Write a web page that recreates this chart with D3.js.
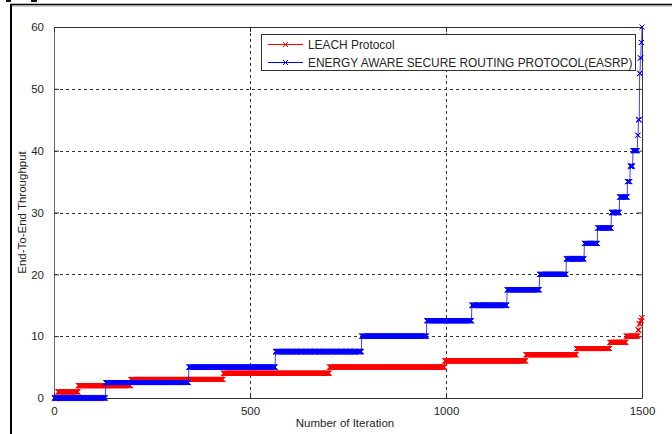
<!DOCTYPE html>
<html>
<head>
<meta charset="utf-8">
<script src="https://cdn.jsdelivr.net/npm/d3@7"></script>
<style>
  html, body { margin: 0; padding: 0; background: #ffffff; }
  svg { display: block; }
  text { font-family: "Liberation Sans", Arial, sans-serif; }
</style>
</head>
<body>
<svg id="chart" width="672" height="434"></svg>
<script>
// Step runs: first iteration of each run and the throughput held during it
const leachStart = [1, 10, 62, 196, 432, 703, 997, 1204, 1333, 1418, 1460, 1490, 1493, 1496, 1499];
const leachLevel = [0, 1, 2, 3, 4, 5, 6, 7, 8, 9, 10, 11, 12, 12.5, 13];

const easrpStart = [1, 132, 344, 565, 785, 951, 1066, 1156, 1239, 1307, 1353, 1387, 1422, 1443, 1463, 1470, 1477, 1489, 1491, 1494, 1496, 1498, 1500];
const easrpLevel = [0, 2.5, 5, 7.5, 10, 12.5, 15, 17.5, 20, 22.5, 25, 27.5, 30, 32.5, 35, 37.5, 40, 42.5, 45, 52.5, 55, 57.5, 60];

const lastIteration = 1500;
const xTicks = [0, 500, 1000, 1500];
const yTicks = [0, 10, 20, 30, 40, 50, 60];
const seriesNames = ["LEACH Protocol", "ENERGY AWARE SECURE ROUTING PROTOCOL(EASRP)"];
const seriesColors = ["#ff0000", "#0000ff"];

// Throughput value at every iteration, held constant within each run
function expandRuns(starts, levels) {
  const pts = [];
  for (let k = 0; k < starts.length; k++) {
    const end = k + 1 < starts.length ? starts[k + 1] - 1 : lastIteration;
    for (let it = starts[k]; it <= end; it++) pts.push([it, levels[k]]);
  }
  return pts;
}

const series = [
  { name: seriesNames[0], color: seriesColors[0], points: expandRuns(leachStart, leachLevel) },
  { name: seriesNames[1], color: seriesColors[1], points: expandRuns(easrpStart, easrpLevel) }
];

const svg = d3.select("#chart");
const plot = { left: 54, right: 642, top: 27, bottom: 398 };

const x = d3.scaleLinear().domain([0, 1500]).range([plot.left, plot.right]);
const y = d3.scaleLinear().domain([0, 60]).range([plot.bottom, plot.top]);

// Figure frame
svg.append("line").attr("x1", 11).attr("x2", 11).attr("y1", 4).attr("y2", 434)
  .attr("stroke", "#000").attr("stroke-width", 2);
svg.append("line").attr("x1", 10).attr("x2", 672).attr("y1", 4.5).attr("y2", 4.5)
  .attr("stroke", "#000").attr("stroke-width", 1.5);
svg.append("line").attr("x1", 12).attr("x2", 672).attr("y1", 6).attr("y2", 6)
  .attr("stroke", "#999").attr("stroke-width", 1);
svg.append("rect").attr("x", 6).attr("y", 0).attr("width", 5).attr("height", 2).attr("fill", "#111");
svg.append("rect").attr("x", 31).attr("y", 0).attr("width", 6).attr("height", 2).attr("fill", "#111");

// Dashed grid
const grid = svg.append("g").attr("stroke", "#333").attr("stroke-width", 1)
  .attr("stroke-dasharray", "3,3").attr("fill", "none");
grid.selectAll("line.h").data(yTicks.filter(v => v > 0 && v < 60)).join("line")
  .attr("class", "h")
  .attr("x1", plot.left).attr("x2", plot.right)
  .attr("y1", d => Math.round(y(d)) + 0.5).attr("y2", d => Math.round(y(d)) + 0.5);
grid.selectAll("line.v").data(xTicks.filter(v => v > 0 && v < 1500)).join("line")
  .attr("class", "v")
  .attr("y1", plot.top).attr("y2", plot.bottom)
  .attr("x1", d => Math.round(x(d)) + 0.5).attr("x2", d => Math.round(x(d)) + 0.5);

// Axes with inward ticks
const axisLeft = svg.append("g").attr("transform", `translate(${plot.left},0)`)
  .call(d3.axisLeft(y).tickValues(yTicks).tickFormat(d3.format("d")).tickSize(-5).tickPadding(10).tickSizeOuter(0));
const axisBottom = svg.append("g").attr("transform", `translate(0,${plot.bottom})`)
  .call(d3.axisBottom(x).tickValues(xTicks).tickFormat(d3.format("d")).tickSize(-5).tickPadding(9).tickSizeOuter(0));
const axisRight = svg.append("g").attr("transform", `translate(${plot.right},0)`)
  .call(d3.axisRight(y).tickValues(yTicks).tickSize(-5).tickFormat("").tickSizeOuter(0));
const axisTop = svg.append("g").attr("transform", `translate(0,${plot.top})`)
  .call(d3.axisTop(x).tickValues(xTicks).tickSize(-5).tickFormat("").tickSizeOuter(0));

[axisLeft, axisBottom, axisRight, axisTop].forEach(g => {
  g.select(".domain").attr("stroke", "#333");
  g.selectAll(".tick line").attr("stroke", "#333");
  g.selectAll(".tick text").attr("fill", "#262626").attr("font-size", 11.5)
    .attr("font-family", "'Liberation Sans', Arial, sans-serif");
});
axisLeft.select(".domain").attr("stroke", "#666");

// Axis titles
svg.append("text").attr("x", 345).attr("y", 427).attr("text-anchor", "middle")
  .attr("font-size", 11.5).attr("fill", "#262626").text("Number of Iteration");
svg.append("text").attr("transform", `translate(26,${(plot.top + plot.bottom) / 2}) rotate(-90)`)
  .attr("text-anchor", "middle").attr("font-size", 11.5).attr("fill", "#262626")
  .text("End-To-End Throughput");

// Series: thin connecting line plus an x marker at every iteration
const line = d3.line().x(d => x(d[0])).y(d => y(d[1]));
const marker = d3.symbol(d3.symbolTimes, 18);

const layer = svg.append("g");
series.forEach(s => {
  const g = layer.append("g");
  g.append("path").datum(s.points).attr("d", line)
    .attr("fill", "none").attr("stroke", s.color).attr("stroke-width", 1).attr("stroke-opacity", 0.75);
  g.selectAll("path.m").data(s.points).join("path")
    .attr("class", "m")
    .attr("d", marker)
    .attr("transform", d => `translate(${x(d[0])},${y(d[1])})`)
    .attr("fill", "none").attr("stroke", s.color).attr("stroke-width", 1);
});

// Legend
const legend = svg.append("g");
legend.append("rect").attr("x", 261.5).attr("y", 34.5).attr("width", 374).attr("height", 36)
  .attr("fill", "#fff").attr("stroke", "#333").attr("stroke-width", 1);
series.forEach((s, i) => {
  const ly = 44.5 + i * 18;
  legend.append("line").attr("x1", 268).attr("x2", 303).attr("y1", ly).attr("y2", ly)
    .attr("stroke", s.color).attr("stroke-width", 1);
  legend.append("path").attr("d", marker).attr("transform", `translate(285.5,${ly})`)
    .attr("fill", "none").attr("stroke", s.color).attr("stroke-width", 1);
  legend.append("text").attr("x", 308).attr("y", ly + 4.5).attr("font-size", 11.9)
    .attr("fill", "#262626").text(s.name);
});
</script>
</body>
</html>
